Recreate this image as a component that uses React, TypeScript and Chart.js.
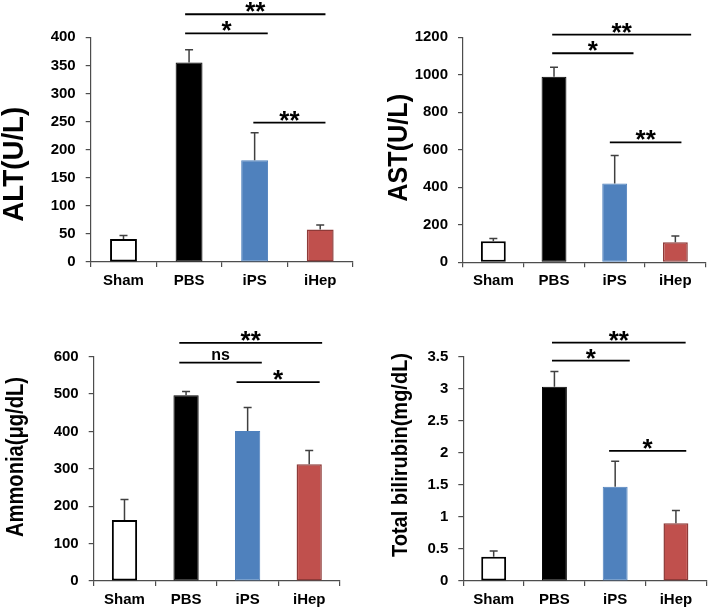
import React, { useEffect, useRef } from 'react';
import { Chart, registerables } from 'chart.js';

Chart.register(...registerables);

// ---------------- DATA ----------------
const categories = ['Sham', 'PBS', 'iPS', 'iHep'];

const altMeans = [41, 355, 181, 58];
const altErrors = [6, 23, 49, 8];
const altTicks = [0, 50, 100, 150, 200, 250, 300, 350, 400];

const astMeans = [112, 990, 420, 107];
const astErrors = [15, 50, 150, 33];
const astTicks = [0, 200, 400, 600, 800, 1000, 1200];

const ammoniaMeans = [163, 497, 401, 312];
const ammoniaErrors = [55, 10, 63, 37];
const ammoniaTicks = [0, 100, 200, 300, 400, 500, 600];

const bilirubinMeans = [0.38, 3.03, 1.47, 0.9];
const bilirubinErrors = [0.09, 0.24, 0.4, 0.2];
const bilirubinTicks = [0, 0.5, 1, 1.5, 2, 2.5, 3, 3.5];

// significance comparisons: [group a, group b, level (axis units), label]
const altComparisons: [number, number, number, string][] = [
  [1, 3, 441, '**'],
  [1, 2, 407, '*'],
  [2, 3, 248, '**'],
];
const astComparisons: [number, number, number, string][] = [
  [1, 3, 1214, '**'],
  [1, 2, 1115, '*'],
  [2, 3, 640, '**'],
];
const ammoniaComparisons: [number, number, number, string][] = [
  [1, 3, 637, '**'],
  [1, 2, 584, 'ns'],
  [2, 3, 532, '*'],
];
const bilirubinComparisons: [number, number, number, string][] = [
  [1, 3, 3.72, '**'],
  [1, 2, 3.44, '*'],
  [2, 3, 2.03, '*'],
];

// ---------------- STYLE ----------------
const FONT = "'Liberation Sans', Arial, Helvetica, sans-serif";
const barFill = ['#FFFFFF', '#000000', '#4F81BD', '#C0504D'];
const barBorder = ['#000000', '#000000', '#4F81BD', '#8E3A38'];
const barBorderWidth = [2, 1, 1, 1.5];
const axisColor = '#4d4d4d';
const errorColor = '#404040';

type Area = { left: number; top: number; right: number; bottom: number };
type PanelSpec = {
  means: number[];
  errors: number[];
  ticks: number[];
  comparisons: [number, number, number, string][];
  overhang: [number, number][];
  title: string;
  titleStyle: { x: number; y: number; size: number; length: number };
  box: { left: number; top: number; w: number; h: number };
  area: Area;
};

const panels: PanelSpec[] = [
  {
    means: altMeans,
    errors: altErrors,
    ticks: altTicks,
    comparisons: altComparisons,
    overhang: [[-0.06, 0.08], [-0.06, 0.2], [-0.02, 0.08]],
    title: 'ALT(U/L)',
    titleStyle: { x: 23.3, y: 164.2, size: 29, length: 115 },
    box: { left: 0, top: 0, w: 354, h: 300 },
    area: { left: 90.7, top: 37.3, right: 353, bottom: 262 },
  },
  {
    means: astMeans,
    errors: astErrors,
    ticks: astTicks,
    comparisons: astComparisons,
    overhang: [[-0.03, 0.26], [-0.03, 0.31], [-0.08, 0.1]],
    title: 'AST(U/L)',
    titleStyle: { x: 53.3, y: 147.8, size: 27.5, length: 107.7 },
    box: { left: 354, top: 0, w: 355, h: 300 },
    area: { left: 109, top: 37.3, right: 351.7, bottom: 262.3 },
  },
  {
    means: ammoniaMeans,
    errors: ammoniaErrors,
    ticks: ammoniaTicks,
    comparisons: ammoniaComparisons,
    overhang: [[-0.11, 0.21], [-0.11, 0.23], [-0.18, 0.17]],
    title: 'Ammonia(\u03BCg/dL)',
    titleStyle: { x: 22.8, y: 157, size: 24, length: 160 },
    box: { left: 0, top: 300, w: 354, h: 313 },
    area: { left: 93.7, top: 56.7, right: 340, bottom: 281 },
  },
  {
    means: bilirubinMeans,
    errors: bilirubinErrors,
    ticks: bilirubinTicks,
    comparisons: bilirubinComparisons,
    overhang: [[-0.04, 0.16], [-0.04, 0.24], [-0.1, 0.17]],
    title: 'Total bilirubin(mg/dL)',
    titleStyle: { x: 52.5, y: 155, size: 22, length: 204 },
    box: { left: 354, top: 300, w: 355, h: 313 },
    area: { left: 109.3, top: 56.7, right: 352.3, bottom: 281 },
  },
];

function makeConfig(spec: PanelSpec): any {
  const errorBarPlugin = {
    id: 'errorBars',
    afterDatasetsDraw(chart: any) {
      const ctx = chart.ctx;
      const meta = chart.getDatasetMeta(0);
      const y = chart.scales.y;
      ctx.save();
      ctx.strokeStyle = errorColor;
      ctx.lineWidth = 1.5;
      meta.data.forEach((bar: any, i: number) => {
        const top = y.getPixelForValue(spec.means[i] + spec.errors[i]);
        const x = bar.x;
        ctx.beginPath();
        ctx.moveTo(x, bar.y);
        ctx.lineTo(x, top);
        ctx.moveTo(x - 4, top);
        ctx.lineTo(x + 4, top);
        ctx.stroke();
      });
      ctx.restore();
    },
  };

  const bracketPlugin = {
    id: 'brackets',
    afterDraw(chart: any) {
      const ctx = chart.ctx;
      const xs = chart.scales.x;
      const ys = chart.scales.y;
      ctx.save();
      spec.comparisons.forEach(([a, b, level, label], k) => {
        const [oa, ob] = spec.overhang[k];
        const x1 = xs.getPixelForValue(a + oa);
        const x2 = xs.getPixelForValue(b + ob);
        const yy = ys.getPixelForValue(level);
        ctx.strokeStyle = '#000';
        ctx.lineWidth = 1.8;
        ctx.beginPath();
        ctx.moveTo(x1, yy);
        ctx.lineTo(x2, yy);
        ctx.stroke();
        const isStar = label.indexOf('*') >= 0;
        ctx.font = `bold ${isStar ? 26 : 16}px ${FONT}`;
        ctx.fillStyle = '#000';
        ctx.textAlign = 'center';
        ctx.textBaseline = 'alphabetic';
        const m = ctx.measureText(label);
        const gap = isStar ? 2 : 3;
        ctx.fillText(label, (x1 + x2) / 2, yy - gap - m.actualBoundingBoxDescent);
      });
      ctx.restore();
    },
  };

  const titlePlugin = {
    id: 'yTitle',
    afterDraw(chart: any) {
      const ctx = chart.ctx;
      const t = spec.titleStyle;
      ctx.save();
      ctx.translate(t.x, t.y);
      ctx.rotate(-Math.PI / 2);
      ctx.font = `bold ${t.size}px ${FONT}`;
      const w = ctx.measureText(spec.title).width;
      ctx.scale(t.length / w, 1);
      ctx.textAlign = 'center';
      ctx.textBaseline = 'alphabetic';
      ctx.fillStyle = '#000';
      ctx.fillText(spec.title, 0, 0);
      ctx.restore();
    },
  };

  const { area, box } = spec;
  return {
    type: 'bar',
    data: {
      labels: categories,
      datasets: [
        {
          data: spec.means,
          backgroundColor: barFill,
          borderColor: barBorder,
          borderWidth: barBorderWidth,
          borderSkipped: false,
          barPercentage: 0.41,
          categoryPercentage: 1,
        },
      ],
    },
    options: {
      animation: false,
      responsive: false,
      devicePixelRatio: 1,
      layout: { padding: { top: area.top, right: box.w - area.right, bottom: 0, left: 0 } },
      plugins: { legend: { display: false }, tooltip: { enabled: false }, title: { display: false } },
      scales: {
        x: {
          grid: {
            display: true,
            offset: true,
            drawOnChartArea: false,
            drawTicks: true,
            tickLength: 5,
            color: axisColor,
            lineWidth: 1.2,
          },
          border: { display: true, color: axisColor, width: 1.2 },
          ticks: { font: { family: FONT, size: 15, weight: 'bold' }, color: '#000', padding: 5, maxRotation: 0 },
          afterFit: (s: any) => {
            s.height = box.h - area.bottom;
          },
        },
        y: {
          min: spec.ticks[0],
          max: spec.ticks[spec.ticks.length - 1],
          grid: {
            display: true,
            drawOnChartArea: false,
            drawTicks: true,
            tickLength: 5,
            color: axisColor,
            lineWidth: 1.2,
          },
          border: { display: true, color: axisColor, width: 1.2 },
          ticks: {
            font: { family: FONT, size: 15, weight: 'bold' },
            color: '#000',
            padding: 10,
            callback: (v: any) => String(v),
          },
          afterBuildTicks: (s: any) => {
            s.ticks = spec.ticks.map((v) => ({ value: v }));
          },
          afterFit: (s: any) => {
            s.width = area.left;
          },
        },
      },
    },
    plugins: [errorBarPlugin, bracketPlugin, titlePlugin],
  };
}

function Panel({ spec }: { spec: PanelSpec }) {
  const ref = useRef<HTMLCanvasElement>(null);
  useEffect(() => {
    if (!ref.current) return;
    const chart = new Chart(ref.current, makeConfig(spec));
    return () => chart.destroy();
  }, [spec]);
  const { box } = spec;
  return (
    <canvas
      ref={ref}
      width={box.w}
      height={box.h}
      style={{ position: 'absolute', left: box.left, top: box.top, width: box.w, height: box.h, display: 'block' }}
    />
  );
}

export default function App() {
  return (
    <div style={{ position: 'absolute', left: 0, top: 0, width: 709, height: 613, background: '#fff', overflow: 'hidden' }}>
      {panels.map((p, i) => (
        <Panel key={i} spec={p} />
      ))}
    </div>
  );
}
